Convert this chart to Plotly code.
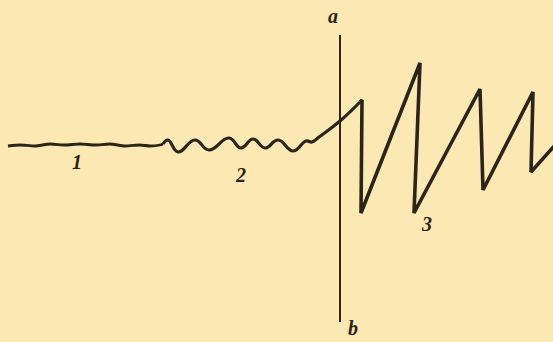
import plotly.graph_objects as go

# Trace 1: quiet baseline
base_x = [8, 20, 35, 50, 65, 80, 95, 110, 125, 140, 150, 160, 163]
base_y = [146, 145, 146, 144, 145, 144, 145, 144, 146, 145, 146, 145, 144]

# Trace 2: small oscillations
wave_x = [163, 168, 178, 195, 209, 229, 241, 253, 265, 278, 293, 306, 312, 319, 340, 360]
wave_y = [144, 140, 152, 140, 150, 138, 148, 139, 148, 140, 151, 141, 142, 137, 121, 102]

# Trace 3: large sawtooth
saw_x = [360, 362, 361, 420, 414, 480, 483, 533, 531, 556]
saw_y = [102, 100, 213, 63, 213, 89, 190, 92, 172, 144]

# Marker line a-b
mark_x = [340, 340]
mark_y = [35, 322]

labels = ["1", "2", "3", "a", "b"]
label_x = [77, 241, 427, 333, 353]
label_y = [164, 177, 226, 18, 330]

ink = "#2b2419"
bg = "#FBE8B3"

fig = go.Figure()
fig.add_trace(go.Scatter(x=base_x, y=base_y, mode="lines",
                         line=dict(color=ink, width=2.8, shape="spline", smoothing=0.6)))
fig.add_trace(go.Scatter(x=wave_x, y=wave_y, mode="lines",
                         line=dict(color=ink, width=3.2, shape="spline", smoothing=1.3)))
fig.add_trace(go.Scatter(x=saw_x, y=saw_y, mode="lines",
                         line=dict(color=ink, width=3.6)))
fig.add_trace(go.Scatter(x=mark_x, y=mark_y, mode="lines",
                         line=dict(color=ink, width=2)))
fig.add_trace(go.Scatter(x=label_x, y=label_y, mode="text",
                         text=["<i><b>" + t + "</b></i>" for t in labels],
                         textfont=dict(family="Liberation Serif", size=20, color=ink),
                         textposition="middle center"))

fig.update_layout(
    width=553, height=342,
    margin=dict(l=0, r=0, t=0, b=0),
    paper_bgcolor=bg, plot_bgcolor=bg,
    showlegend=False,
    font=dict(family="Liberation Serif"),
    xaxis=dict(range=[0, 553], visible=False, fixedrange=True),
    yaxis=dict(range=[342, 0], visible=False, fixedrange=True),
)
fig.update_traces(hoverinfo="skip")

fig.write_html("out.html", config={"displayModeBar": False},
               post_script="document.body.style.margin='0';document.body.style.overflow='hidden';document.body.style.background='" + bg + "';")
